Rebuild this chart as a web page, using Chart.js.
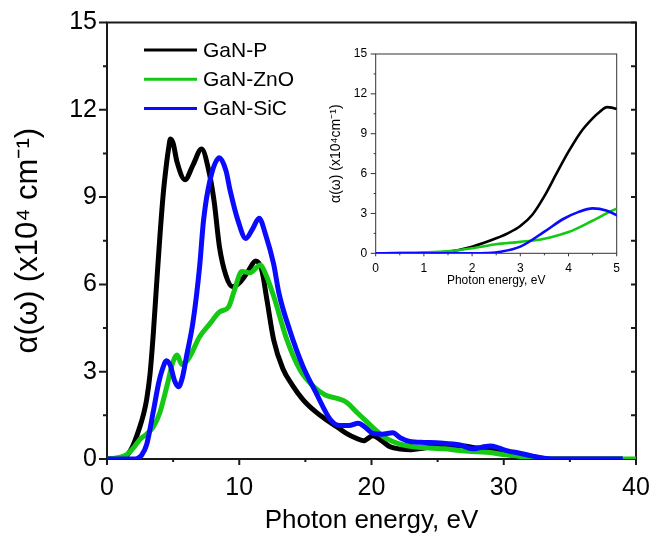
<!DOCTYPE html>
<html>
<head>
<meta charset="utf-8">
<script src="https://cdn.jsdelivr.net/npm/chart.js@4.4.1/dist/chart.umd.min.js"></script>
<style>
  body { margin: 0; background: #fff; }
  #wrap { position: relative; width: 652px; height: 535px; }
  #wrap canvas { position: absolute; }
  #main { left: 0; top: 0; }
  #inset { left: 325px; top: 40px; }
</style>
</head>
<body>
<div id="wrap">
  <canvas id="main" width="652" height="535"></canvas>
  <canvas id="inset" width="300" height="260"></canvas>
</div>
<script>
// absorption coefficient alpha (x10^4 cm^-1) vs photon energy (eV)
const energyP = [0, 0.5, 1, 1.5, 2, 2.5, 2.75, 3, 3.25, 3.5, 3.75, 4, 4.25, 4.5, 4.65, 4.8, 5.0, 5.3, 5.9, 6.5, 7.15, 7.7,
  8.1, 8.5, 9.0, 9.5, 10.0, 10.6, 11.25, 11.7, 12.1, 12.6, 13.3, 14.0, 14.8, 15.7, 16.6, 17.4, 18.1, 18.8, 19.4, 20.1,
  20.7, 21.4, 22.2, 23, 24, 25, 26, 27, 28, 29, 30, 31, 32, 33, 39];
const alphaP = [0, 0.01, 0.03, 0.12, 0.5, 1.13, 1.52, 2.05, 2.9, 4.3, 6.0, 7.65, 9.1, 10.15, 10.65, 11.0, 10.85, 10.2, 9.6, 10.1, 10.65, 9.9,
  8.85, 7.3, 6.3, 5.92, 6.05, 6.4, 6.8, 6.5, 5.45, 4.1, 3.1, 2.55, 2.05, 1.65, 1.34, 1.1, 0.88, 0.72, 0.63, 0.8,
  0.65, 0.42, 0.34, 0.32, 0.38, 0.45, 0.47, 0.45, 0.38, 0.36, 0.22, 0.08, 0.02, 0, 0];

const energyZnO = [0, 0.5, 1, 1.5, 2, 2.5, 3, 3.5, 4, 4.5, 5, 5.3, 5.65, 6.0, 6.3, 7.0, 7.8, 8.5, 9.2, 9.6,
  10.2, 10.8, 11.6, 12.0, 12.6, 13.6, 14.6, 15.6, 16.5, 17.4, 18.1, 18.9, 19.6, 20.3, 20.9, 21.6, 22.4, 23.5, 24.7, 25.5,
  26.7, 28, 29, 30, 31, 32, 33.5, 35, 40];
const alphaZnO = [0, 0.02, 0.06, 0.15, 0.38, 0.68, 0.86, 1.1, 1.6, 2.45, 3.35, 3.57, 3.25, 3.35, 3.55, 4.2, 4.66, 5.05, 5.23, 5.75,
  6.44, 6.4, 6.67, 6.35, 5.6, 4.1, 3.06, 2.5, 2.2, 2.08, 1.95, 1.6, 1.3, 1.0, 0.77, 0.6, 0.48, 0.4, 0.37, 0.35,
  0.29, 0.25, 0.22, 0.15, 0.1, 0.05, 0.01, 0, 0];

const energySiC = [0, 1, 2, 2.3, 2.6, 3.0, 3.5, 3.9, 4.2, 4.5, 4.8, 5.1, 5.4, 5.7, 6.0, 6.5, 7.0, 7.3, 7.8, 8.5,
  9.0, 9.3, 9.9, 10.5, 11.0, 11.5, 12.0, 12.6, 13.0, 13.8, 14.8, 15.8, 16.9, 17.6, 18.3, 19.0, 19.5, 20.1, 20.8, 21.6,
  22.2, 22.9, 24, 25.2, 26.7, 27.7, 28.3, 29.0, 29.6, 30.3, 31.2, 32.2, 33.2, 34, 39];
const alphaSiC = [0, 0, 0, 0.02, 0.12, 0.5, 1.63, 2.6, 3.1, 3.38, 3.2, 2.7, 2.48, 2.8, 3.5, 4.7, 6.6, 8.2, 9.6, 10.35,
  9.9, 9.25, 8.2, 7.58, 7.9, 8.27, 7.7, 6.7, 5.7, 4.45, 3.2, 2.28, 1.35, 1.15, 1.15, 1.23, 1.1, 0.88, 0.85, 0.9,
  0.72, 0.6, 0.57, 0.55, 0.48, 0.35, 0.4, 0.45, 0.38, 0.28, 0.2, 0.1, 0.02, 0, 0];

const seriesNames = ['GaN-P', 'GaN-ZnO', 'GaN-SiC'];
const seriesColors = ['#000000', '#14c814', '#0a0aff'];

const xTicksMain = [0, 10, 20, 30, 40];
const xTicksInset = [0, 1, 2, 3, 4, 5];
const yTicks = [0, 3, 6, 9, 12, 15];

const FONT = "'Liberation Sans', Arial, sans-serif";

function points(energy, alpha) {
  return energy.map((e, i) => ({ x: e, y: alpha[i] }));
}

function makeDatasets(width) {
  const sets = [points(energyP, alphaP), points(energyZnO, alphaZnO), points(energySiC, alphaSiC)];
  // later series sit on top of earlier ones
  return sets.map((d, i) => ({
    label: seriesNames[i],
    data: d,
    borderColor: seriesColors[i],
    borderWidth: width,
    pointRadius: 0,
    fill: false,
    cubicInterpolationMode: 'monotone',
    order: sets.length - i
  }));
}

// box around the plot area plus major/minor tick marks
const framePlugin = {
  id: 'frame',
  beforeDatasetsDraw(chart, args, o) {
    const { ctx, chartArea: a, scales: { x, y } } = chart;
    const eps = 1e-6;
    ctx.save();
    ctx.strokeStyle = o.color;
    ctx.lineWidth = o.lineWidth;
    ctx.lineCap = 'butt';
    ctx.strokeRect(a.left, a.top, a.right - a.left, a.bottom - a.top);
    ctx.beginPath();
    for (let v = y.min; v <= y.max + eps; v += o.yMajor / 2) {
      const py = y.getPixelForValue(v);
      const major = Math.abs(v / o.yMajor - Math.round(v / o.yMajor)) < eps;
      const len = major ? o.yMajorLen : o.yMinorLen;
      ctx.moveTo(a.left, py);
      ctx.lineTo(a.left - len, py);
      if (o.rightLen) {
        ctx.moveTo(a.right, py);
        ctx.lineTo(a.right - o.rightLen, py);
      }
    }
    for (let v = x.min; v <= x.max + eps; v += o.xMajor / 2) {
      const px = x.getPixelForValue(v);
      const major = Math.abs(v / o.xMajor - Math.round(v / o.xMajor)) < eps;
      const len = major ? o.xMajorLen : o.xMinorLen;
      ctx.moveTo(px, a.bottom);
      ctx.lineTo(px, a.bottom + len);
    }
    ctx.stroke();
    ctx.restore();
  }
};

// line-sample legend in the upper left of the plot
const lineLegend = {
  id: 'lineLegend',
  afterDraw(chart) {
    const { ctx } = chart;
    ctx.save();
    ctx.font = '21px ' + FONT;
    ctx.textBaseline = 'middle';
    ctx.textAlign = 'left';
    chart.data.datasets.forEach((ds, i) => {
      const yy = 50 + i * 29.2;
      ctx.strokeStyle = ds.borderColor;
      ctx.lineWidth = 3;
      ctx.beginPath();
      ctx.moveTo(144, yy);
      ctx.lineTo(197, yy);
      ctx.stroke();
      ctx.fillStyle = '#000';
      ctx.fillText(ds.label, 203, yy + 1);
    });
    ctx.restore();
  }
};

function axisOptions(cfg) {
  return {
    type: 'linear',
    min: cfg.min,
    max: cfg.max,
    afterBuildTicks: s => { s.ticks = cfg.ticks.map(v => ({ value: v })); },
    afterFit: s => {
      if (cfg.width) s.width = cfg.width;
      if (cfg.height) s.height = cfg.height;
      // keep the plot box fixed; edge labels may overhang it
      s.paddingLeft = s.paddingRight = s.paddingTop = s.paddingBottom = 0;
    },
    grid: { display: false, drawTicks: false },
    border: { display: false },
    ticks: {
      color: '#000',
      padding: cfg.padding,
      font: { family: FONT, size: cfg.tickSize, lineHeight: 1 }
    },
    title: {
      display: true,
      text: cfg.title,
      color: '#000',
      padding: cfg.titlePadding,
      font: { family: FONT, size: cfg.titleSize, lineHeight: 1 }
    }
  };
}

Chart.defaults.animation = false;

new Chart(document.getElementById('main'), {
  type: 'line',
  data: { datasets: makeDatasets(5) },
  options: {
    responsive: false,
    devicePixelRatio: 1,
    layout: { padding: { left: 0, top: 22.5, right: 16, bottom: 0 } },
    scales: {
      x: axisOptions({ min: 0, max: 40, ticks: xTicksMain, height: 76, padding: 17, tickSize: 25,
        title: 'Photon energy, eV', titleSize: 26, titlePadding: { top: 0, bottom: 1 } }),
      y: axisOptions({ min: 0, max: 15, ticks: yTicks, width: 107, padding: 10, tickSize: 25,
        title: 'α(ω) (x10⁴ cm⁻¹)', titleSize: 31, titlePadding: { top: 13, bottom: 0 } })
    },
    plugins: {
      legend: { display: false },
      tooltip: { enabled: false },
      frame: { color: '#1a1a1a', lineWidth: 2, yMajor: 3, yMajorLen: 8, yMinorLen: 4,
        xMajor: 10, xMajorLen: 6, xMinorLen: 3, rightLen: 5 }
    }
  },
  plugins: [framePlugin, lineLegend]
});

// zoom on the absorption edge
new Chart(document.getElementById('inset'), {
  type: 'line',
  data: { datasets: makeDatasets(2.6) },
  options: {
    responsive: false,
    devicePixelRatio: 1,
    layout: { padding: { left: 0, top: 14, right: 8.3, bottom: 0 } },
    scales: {
      x: axisOptions({ min: 0, max: 5, ticks: xTicksInset, height: 46.7, padding: 9, tickSize: 12,
        title: 'Photon energy, eV', titleSize: 12, titlePadding: { top: 0, bottom: 13 } }),
      y: axisOptions({ min: 0, max: 15, ticks: yTicks, width: 50.7, padding: 8.5, tickSize: 12,
        title: 'α(ω) (x10⁴cm⁻¹)', titleSize: 14, titlePadding: { top: 4, bottom: 0 } })
    },
    plugins: {
      legend: { display: false },
      tooltip: { enabled: false },
      frame: { color: '#333', lineWidth: 1, yMajor: 3, yMajorLen: 5, yMinorLen: 2,
        xMajor: 1, xMajorLen: 3, xMinorLen: 2, rightLen: 0 }
    }
  },
  plugins: [framePlugin]
});
</script>
</body>
</html>
